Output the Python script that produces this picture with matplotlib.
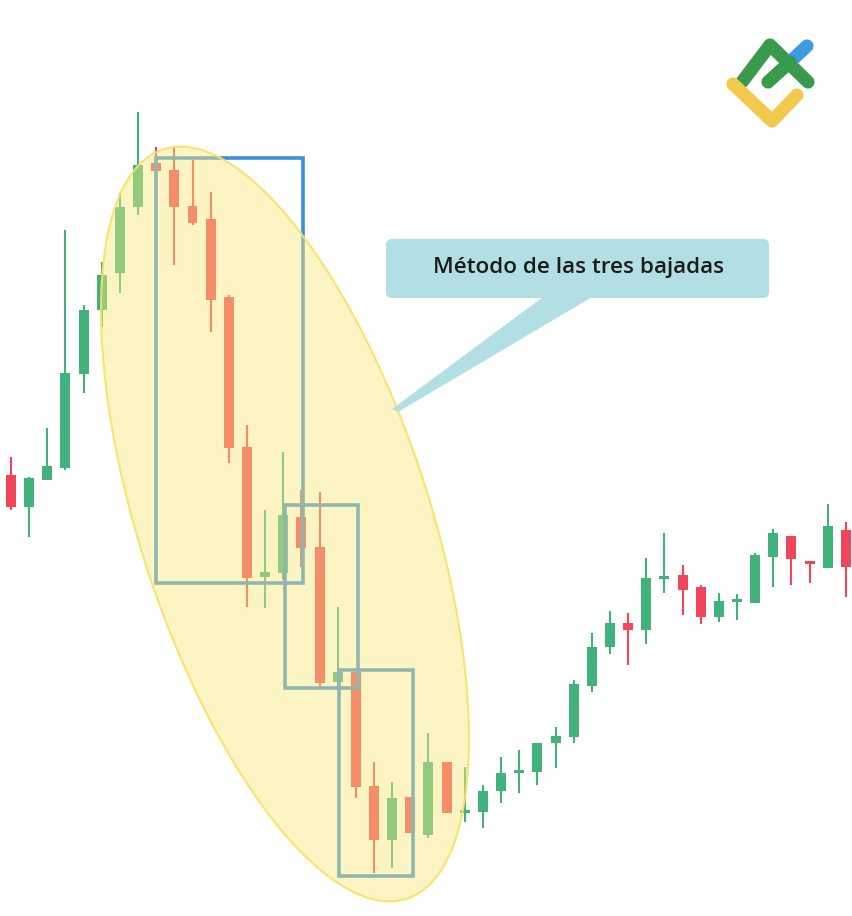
import matplotlib
matplotlib.use("Agg")
import matplotlib.pyplot as plt
from matplotlib.patches import Ellipse, Rectangle, FancyBboxPatch, Polygon
import numpy as np

# candle data (price units), left to right
opens = [441, 409, 436, 448, 542, 606, 643, 709, 753, 746, 710, 697, 619, 469, 339, 343,
         399, 369, 234, 244, 130, 76, 119, 81, 154, 104, 104, 125, 143, 144, 173, 179,
         230, 269, 293, 286, 338, 341, 329, 299, 314, 313, 359, 380, 354, 348, 386]
closes = [409, 438, 450, 543, 606, 641, 709, 751, 745, 709, 693, 616, 468, 338, 344, 401,
          368, 233, 244, 129, 76, 118, 83, 154, 103, 106, 125, 143, 146, 173, 180, 232,
          269, 293, 286, 338, 339, 326, 299, 315, 317, 361, 383, 357, 353, 390, 349]
highs = [459, 439, 488, 686, 611, 654, 723, 804, 769, 768, 756, 724, 621, 491, 406, 464,
         426, 424, 309, 244, 154, 134, 119, 183, 154, 149, 131, 159, 166, 173, 189, 236,
         283, 305, 303, 358, 383, 351, 331, 323, 322, 363, 387, 380, 354, 412, 394]
lows = [406, 379, 436, 446, 523, 589, 623, 701, 745, 651, 691, 584, 453, 309, 308, 336,
        349, 229, 229, 118, 43, 48, 83, 78, 103, 94, 88, 113, 123, 131, 148, 173,
        224, 262, 251, 272, 323, 301, 292, 294, 296, 313, 329, 331, 333, 348, 319]

# the three highlighted ranges: (left idx, right idx, top price, bottom price)
boxes = [(8.0, 16.1, 758, 333), (15.1, 19.1, 411, 228), (18.07, 22.15, 246, 40)]

label = "Método de las tres bajadas"

up_color = "#41b27c"
down_color = "#f2455a"

fig = plt.figure(figsize=(8.53, 9.16), dpi=100)
ax = fig.add_axes([0, 0, 1, 1])
ax.set_xlim(-0.606, 46.39)
ax.set_ylim(0, 916)
ax.axis("off")

x = np.arange(len(opens))
o = np.array(opens)
c = np.array(closes)
colors = [up_color if cc >= oo else down_color for oo, cc in zip(o, c)]
bottoms = np.minimum(o, c)
heights = np.maximum(np.abs(c - o), 3)

ax.vlines(x, lows, highs, colors=colors, linewidth=1.5, zorder=2)
ax.bar(x, heights, bottom=bottoms - (heights - np.abs(c - o)) / 2, width=0.55,
       color=colors, zorder=3)

for left, right, top, bottom in boxes:
    ax.add_patch(Rectangle((left, bottom), right - left, top - bottom, fill=False,
                           edgecolor="#3b8fdc", linewidth=2.6, zorder=4))

# overlay in pixel coordinates for the highlight, callout and logo
ov = fig.add_axes([0, 0, 1, 1])
ov.set_xlim(0, 853)
ov.set_ylim(916, 0)
ov.axis("off")
ov.patch.set_alpha(0)

ov.add_patch(Ellipse((285, 524), 290, 788, angle=-18,
                     facecolor=(250/255, 233/255, 122/255, 0.45),
                     edgecolor=(247/255, 226/255, 100/255, 0.9), linewidth=1.5))

callout_color = "#b2dfe3"
ov.add_patch(FancyBboxPatch((386, 239), 383, 59,
                            boxstyle="round,pad=0,rounding_size=6",
                            facecolor=callout_color, edgecolor="none"))
ov.add_patch(Polygon([(543, 297), (592, 297), (398, 412), (392, 409)],
                     closed=True, facecolor=callout_color, edgecolor="none"))
ov.text(579, 268, label, ha="center", va="center", fontsize=16.2,
        family=["Open Sans", "DejaVu Sans"], fontweight="semibold", color="#1b1b1b")

# logo
lw = 9.5
ov.plot([742, 770, 808], [82, 45, 82], color="#3a9a4b", linewidth=lw,
        solid_capstyle="round", solid_joinstyle="round")
ov.plot([790, 807], [62, 46], color="#3d9be0", linewidth=lw, solid_capstyle="round")
ov.plot([768, 790], [82, 62], color="#3a9a4b", linewidth=lw, solid_capstyle="round")
ov.plot([733, 772, 797], [84, 121, 95], color="#f2c94c", linewidth=lw,
        solid_capstyle="round", solid_joinstyle="round")

fig.savefig("out.png", dpi=100)
